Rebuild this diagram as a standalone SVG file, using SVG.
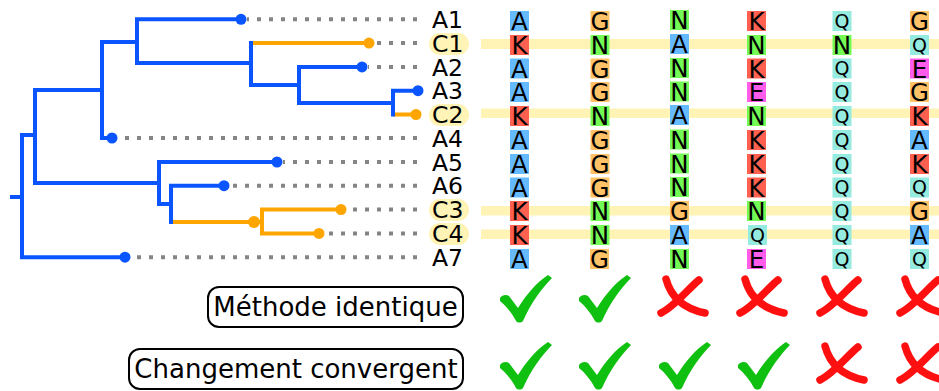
<svg xmlns="http://www.w3.org/2000/svg" xmlns:xlink="http://www.w3.org/1999/xlink" width="939" height="391" viewBox="0 0 939 391">
<style>
.b{fill:none;stroke:#0A55FF;stroke-width:4;stroke-linecap:square;stroke-linejoin:miter}
.o{fill:none;stroke:#FFA500;stroke-width:4;stroke-linecap:square;stroke-linejoin:miter}
.db{fill:#0A55FF}
.do{fill:#FFA500}
.dot{fill:none;stroke:#858585;stroke-width:4;stroke-dasharray:4 8}
.lab{font-family:"DejaVu Sans","Liberation Sans",sans-serif;font-size:23.5px;fill:#000}
.hl{fill:#FFF3B5}
.res{font-family:"DejaVu Sans","Liberation Sans",sans-serif;font-size:24.5px;fill:#000;text-anchor:middle}
.resq{font-family:"DejaVu Sans","Liberation Sans",sans-serif;font-size:19px;fill:#000;text-anchor:middle}
.rA{fill:#66BBFF}.rK{fill:#FF6050}.rG{fill:#FFC266}.rN{fill:#74FA55}.rQ{fill:#95EBDF}.rE{fill:#FF5CEC}
.box{fill:#fff;stroke:#000;stroke-width:2}
.big{font-family:"DejaVu Sans","Liberation Sans",sans-serif;font-size:26px;fill:#000;text-anchor:middle}
.ck{fill:#10C010}
.cx{fill:none;stroke:#FF1010;stroke-width:7.5;stroke-linecap:round}
</style>
<defs>
<g id="check"><path class="ck" d="M0,23 C2,20 6,19 9,21 L18,33 C26,20 37,7 48,0 L52,3 C42,13 31,28 23,46 C21,48 18,48 16,46 C12,38 6,31 0,26 Z"/></g>
<g id="cross"><path class="cx" d="M8,5 C12,20 22,34 47,39"/><path class="cx" d="M41,6 C30,15 16,33 3,39"/></g>
</defs>
<rect width="939" height="391" fill="#fff"/>

<g id="highlights">
<rect class="hl" x="481" y="39" width="458" height="10"/>
<rect class="hl" x="481" y="108.5" width="458" height="9.5"/>
<rect class="hl" x="481" y="206" width="458" height="9.5"/>
<rect class="hl" x="481" y="229.5" width="458" height="9.5"/>
</g>

<g id="dotted">
<line class="dot" x1="417" y1="19.3" x2="247" y2="19.3"/>
<line class="dot" x1="417" y1="43.1" x2="375" y2="43.1"/>
<line class="dot" x1="417" y1="66.9" x2="368" y2="66.9"/>
<line class="dot" x1="417" y1="138" x2="118" y2="138"/>
<line class="dot" x1="417" y1="162" x2="283" y2="162"/>
<line class="dot" x1="417" y1="185.7" x2="230" y2="185.7"/>
<line class="dot" x1="417" y1="209.5" x2="347" y2="209.5"/>
<line class="dot" x1="417" y1="233.4" x2="325" y2="233.4"/>
<line class="dot" x1="417" y1="257.2" x2="131" y2="257.2"/>
</g>

<g id="connectors">
<path class="o" d="M253,43.1 H369"/>
<path class="o" d="M395,114.5 H416"/>
<path class="o" d="M174,222 H262"/>
<path class="o" d="M341,209.5 H262 V233.4 H319"/>
<path class="b" d="M12,197 H22"/>
<path class="b" d="M35,135 H22 V257.2 H125"/>
<path class="b" d="M102,90 H35 V183 H159"/>
<path class="b" d="M137,42 H102 V138 H112"/>
<path class="b" d="M241,19.3 H137 V63 H251"/>
<path class="b" d="M251,43.1 V85 H299"/>
<path class="b" d="M362,66.9 H299 V103 H393"/>
<path class="b" d="M418,90.7 H393 V114.5"/>
<path class="b" d="M277,162 H159 V204 H171"/>
<path class="b" d="M224,185.7 H171 V222"/>
<circle class="do" cx="254" cy="222" r="6"/>
</g>

<g id="A1"><circle class="db" cx="241" cy="19.3" r="5.5"/><text class="lab" x="432" y="28">A1</text>
<rect class="rA" x="510" y="11" width="19" height="20"/><text class="res" x="519.5" y="30">A</text>
<rect class="rG" x="590.5" y="11" width="19" height="20"/><text class="res" x="600" y="30">G</text>
<rect class="rN" x="670" y="10" width="19" height="20"/><text class="res" x="679.5" y="29">N</text>
<rect class="rK" x="747" y="11" width="19" height="20"/><text class="res" x="756.5" y="30">K</text>
<rect class="rQ" x="832.5" y="11" width="19" height="20"/><text class="resq" x="842" y="27.5">Q</text>
<rect class="rG" x="910" y="11" width="19" height="20"/><text class="res" x="919.5" y="30">G</text>
</g>

<g id="C1"><circle class="do" cx="369" cy="43.1" r="5.5"/><rect class="hl" x="429" y="33" width="40" height="22" rx="11"/><text class="lab" x="432" y="51.8">C1</text>
<rect class="rK" x="510" y="35" width="19" height="20"/><text class="res" x="519.5" y="54">K</text>
<rect class="rN" x="590.5" y="35" width="19" height="20"/><text class="res" x="600" y="54">N</text>
<rect class="rA" x="670" y="34" width="19" height="20"/><text class="res" x="679.5" y="53">A</text>
<rect class="rN" x="747" y="35" width="19" height="20"/><text class="res" x="756.5" y="54">N</text>
<rect class="rN" x="832.5" y="35" width="19" height="20"/><text class="res" x="842" y="54">N</text>
<rect class="rQ" x="910" y="35" width="19" height="20"/><text class="resq" x="919.5" y="51.5">Q</text>
</g>

<g id="A2"><circle class="db" cx="362" cy="66.9" r="5.5"/><text class="lab" x="432" y="75.6">A2</text>
<rect class="rA" x="510" y="58.5" width="19" height="20"/><text class="res" x="519.5" y="77.5">A</text>
<rect class="rG" x="590.5" y="58.5" width="19" height="20"/><text class="res" x="600" y="77.5">G</text>
<rect class="rN" x="670" y="58" width="19" height="20"/><text class="res" x="679.5" y="77">N</text>
<rect class="rK" x="747" y="58.5" width="19" height="20"/><text class="res" x="756.5" y="77.5">K</text>
<rect class="rQ" x="832.5" y="58.5" width="19" height="20"/><text class="resq" x="842" y="75">Q</text>
<rect class="rE" x="910" y="58.5" width="19" height="20"/><text class="res" x="919.5" y="77.5">E</text>
</g>

<g id="A3"><circle class="db" cx="418" cy="90.7" r="5.5"/><text class="lab" x="432" y="99.4">A3</text>
<rect class="rA" x="510" y="82" width="19" height="20"/><text class="res" x="519.5" y="101">A</text>
<rect class="rG" x="590.5" y="82" width="19" height="20"/><text class="res" x="600" y="101">G</text>
<rect class="rN" x="670" y="81.5" width="19" height="20"/><text class="res" x="679.5" y="100.5">N</text>
<rect class="rE" x="747" y="82" width="19" height="20"/><text class="res" x="756.5" y="101">E</text>
<rect class="rQ" x="832.5" y="82" width="19" height="20"/><text class="resq" x="842" y="98.5">Q</text>
<rect class="rG" x="910" y="82" width="19" height="20"/><text class="res" x="919.5" y="101">G</text>
</g>

<g id="C2"><circle class="do" cx="416" cy="114.5" r="5.5"/><rect class="hl" x="429" y="104" width="40" height="22" rx="11"/><text class="lab" x="432" y="123.2">C2</text>
<rect class="rK" x="510" y="106" width="19" height="20"/><text class="res" x="519.5" y="125">K</text>
<rect class="rN" x="590.5" y="106" width="19" height="20"/><text class="res" x="600" y="125">N</text>
<rect class="rA" x="670" y="105" width="19" height="20"/><text class="res" x="679.5" y="124">A</text>
<rect class="rN" x="747" y="106" width="19" height="20"/><text class="res" x="756.5" y="125">N</text>
<rect class="rQ" x="832.5" y="106" width="19" height="20"/><text class="resq" x="842" y="122.5">Q</text>
<rect class="rK" x="910" y="106" width="19" height="20"/><text class="res" x="919.5" y="125">K</text>
</g>

<g id="A4"><circle class="db" cx="112" cy="138" r="5.5"/><text class="lab" x="432" y="146.7">A4</text>
<rect class="rA" x="510" y="130" width="19" height="20"/><text class="res" x="519.5" y="149">A</text>
<rect class="rG" x="590.5" y="130" width="19" height="20"/><text class="res" x="600" y="149">G</text>
<rect class="rN" x="670" y="129.5" width="19" height="20"/><text class="res" x="679.5" y="148.5">N</text>
<rect class="rK" x="747" y="130" width="19" height="20"/><text class="res" x="756.5" y="149">K</text>
<rect class="rQ" x="832.5" y="130" width="19" height="20"/><text class="resq" x="842" y="146.5">Q</text>
<rect class="rA" x="910" y="130" width="19" height="20"/><text class="res" x="919.5" y="149">A</text>
</g>

<g id="A5"><circle class="db" cx="277" cy="162" r="5.5"/><text class="lab" x="432" y="170.7">A5</text>
<rect class="rA" x="510" y="154" width="19" height="20"/><text class="res" x="519.5" y="173">A</text>
<rect class="rG" x="590.5" y="154" width="19" height="20"/><text class="res" x="600" y="173">G</text>
<rect class="rN" x="670" y="153.5" width="19" height="20"/><text class="res" x="679.5" y="172.5">N</text>
<rect class="rK" x="747" y="154" width="19" height="20"/><text class="res" x="756.5" y="173">K</text>
<rect class="rQ" x="832.5" y="154" width="19" height="20"/><text class="resq" x="842" y="170.5">Q</text>
<rect class="rK" x="910" y="154" width="19" height="20"/><text class="res" x="919.5" y="173">K</text>
</g>

<g id="A6"><circle class="db" cx="224" cy="185.7" r="5.5"/><text class="lab" x="432" y="194.4">A6</text>
<rect class="rA" x="510" y="177.5" width="19" height="20"/><text class="res" x="519.5" y="196.5">A</text>
<rect class="rG" x="590.5" y="177.5" width="19" height="20"/><text class="res" x="600" y="196.5">G</text>
<rect class="rN" x="670" y="177" width="19" height="20"/><text class="res" x="679.5" y="196">N</text>
<rect class="rK" x="747" y="177.5" width="19" height="20"/><text class="res" x="756.5" y="196.5">K</text>
<rect class="rQ" x="832.5" y="177.5" width="19" height="20"/><text class="resq" x="842" y="194">Q</text>
<rect class="rQ" x="910" y="177.5" width="19" height="20"/><text class="resq" x="919.5" y="194">Q</text>
</g>

<g id="C3"><circle class="do" cx="341" cy="209.5" r="5.5"/><rect class="hl" x="429" y="199" width="40" height="22" rx="11"/><text class="lab" x="432" y="218.2">C3</text>
<rect class="rK" x="510" y="201" width="19" height="20"/><text class="res" x="519.5" y="220">K</text>
<rect class="rN" x="590.5" y="201" width="19" height="20"/><text class="res" x="600" y="220">N</text>
<rect class="rG" x="670" y="201" width="19" height="20"/><text class="res" x="679.5" y="220">G</text>
<rect class="rN" x="747" y="201" width="19" height="20"/><text class="res" x="756.5" y="220">N</text>
<rect class="rQ" x="832.5" y="201" width="19" height="20"/><text class="resq" x="842" y="217.5">Q</text>
<rect class="rG" x="910" y="201" width="19" height="20"/><text class="res" x="919.5" y="220">G</text>
</g>

<g id="C4"><circle class="do" cx="319" cy="233.4" r="5.5"/><rect class="hl" x="429" y="223" width="40" height="22" rx="11"/><text class="lab" x="432" y="242.1">C4</text>
<rect class="rK" x="510" y="225" width="19" height="20"/><text class="res" x="519.5" y="244">K</text>
<rect class="rN" x="590.5" y="225" width="19" height="20"/><text class="res" x="600" y="244">N</text>
<rect class="rA" x="670" y="225" width="19" height="20"/><text class="res" x="679.5" y="244">A</text>
<rect class="rQ" x="748" y="225" width="19" height="20"/><text class="resq" x="757.5" y="241.5">Q</text>
<rect class="rQ" x="832.5" y="225" width="19" height="20"/><text class="resq" x="842" y="241.5">Q</text>
<rect class="rA" x="910" y="225" width="19" height="20"/><text class="res" x="919.5" y="244">A</text>
</g>

<g id="A7"><circle class="db" cx="125" cy="257.2" r="5.5"/><text class="lab" x="432" y="265.9">A7</text>
<rect class="rA" x="510" y="249" width="19" height="20"/><text class="res" x="519.5" y="268">A</text>
<rect class="rG" x="590" y="249" width="19" height="20"/><text class="res" x="599.5" y="268">G</text>
<rect class="rN" x="670" y="249" width="19" height="20"/><text class="res" x="679.5" y="268">N</text>
<rect class="rE" x="747" y="249" width="19" height="20"/><text class="res" x="756.5" y="268">E</text>
<rect class="rQ" x="832.5" y="249" width="19" height="20"/><text class="resq" x="842" y="265.5">Q</text>
<rect class="rQ" x="910" y="249" width="19" height="20"/><text class="resq" x="919.5" y="265.5">Q</text>
</g>

<g id="methode">
<rect class="box" x="208" y="287" width="255" height="40" rx="11"/>
<text class="big" x="335.5" y="316">Méthode identique</text>
<use xlink:href="#check" href="#check" x="500" y="275"/>
<use xlink:href="#check" href="#check" x="579" y="275"/>
<use xlink:href="#cross" href="#cross" x="658" y="274"/>
<use xlink:href="#cross" href="#cross" x="737" y="274"/>
<use xlink:href="#cross" href="#cross" x="817" y="274"/>
<use xlink:href="#cross" href="#cross" x="897" y="274"/>
</g>

<g id="changement">
<rect class="box" x="129" y="349" width="334" height="40" rx="11"/>
<text class="big" x="296" y="377.5">Changement convergent</text>
<use xlink:href="#check" href="#check" x="500" y="342"/>
<use xlink:href="#check" href="#check" x="579" y="342"/>
<use xlink:href="#check" href="#check" x="659" y="342"/>
<use xlink:href="#check" href="#check" x="738" y="342"/>
<use xlink:href="#cross" href="#cross" x="817" y="341"/>
<use xlink:href="#cross" href="#cross" x="897" y="341"/>
</g>
</svg>
